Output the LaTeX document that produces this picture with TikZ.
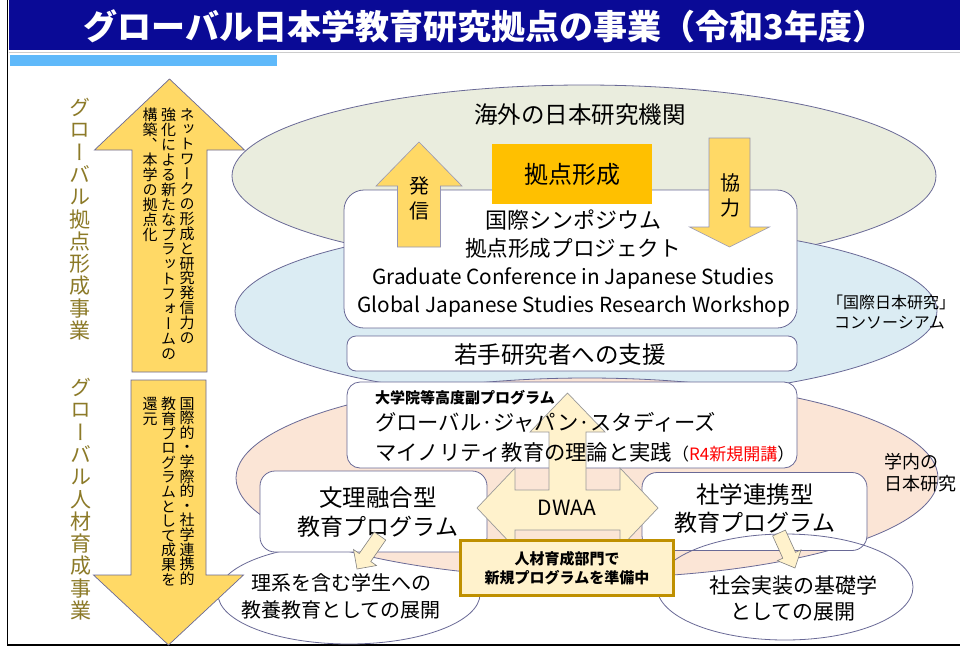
\documentclass[tikz,border=0pt]{standalone}
\usepackage{fontspec}
\usepackage{graphicx}
\setmainfont{Noto Sans CJK JP}
\newfontfamily\vjp{Noto Sans CJK JP}[RawFeature=+vert]
\usetikzlibrary{shapes.geometric,calc}
\definecolor{titleblue}{RGB}{10,10,150}
\definecolor{stripeblue}{RGB}{95,185,250}
\definecolor{olc}{RGB}{105,105,150}
\definecolor{greenf}{RGB}{234,237,222}
\definecolor{bluef}{RGB}{219,236,243}
\definecolor{peachf}{RGB}{251,229,214}
\definecolor{arrowy}{RGB}{255,217,102}
\definecolor{lighty}{RGB}{255,242,204}
\definecolor{goldline}{RGB}{191,144,0}
\definecolor{orangef}{RGB}{255,192,0}
\definecolor{olivetxt}{RGB}{140,122,40}
\newcommand\fsz[1]{\fontsize{#1}{#1}\selectfont}
\def\vtend{\vtend}
\def\vtloop#1{\ifx#1\vtend\else\vtchar#1\expandafter\vtloop\fi}
\def\vtchar#1{\hbox to 1em{\hss{\vjp#1}\hss}}
\newcommand\vtext[2]{\vbox{\baselineskip=#1\lineskiplimit=-100pt\lineskip=0pt\vtloop#2\vtend}}
\newcommand\blockarrow[6]{%
  \coordinate (bah) at ($(#3)!#6!(#2)$);
  \filldraw[#1] ($(#2)!#4!90:(#3)$) -- ($(bah)!#4!90:(#3)$) -- ($(bah)!#5!90:(#3)$) -- (#3)
    -- ($(bah)!#5!-90:(#3)$) -- ($(bah)!#4!-90:(#3)$) -- ($(#2)!#4!-90:(#3)$) -- cycle;}
\tikzset{
  lbl/.style={inner sep=0pt, text=black},
  rbox/.style={draw=olc, line width=0.8pt, fill=white, rectangle, inner sep=0pt},
  ell/.style={ellipse, draw=olc, line width=0.8pt, inner sep=0pt},
  bigarr/.style={fill=arrowy, draw=olc, line width=0.7pt},
  midarr/.style={fill=arrowy, draw=olc!70, line width=0.6pt},
  smallarr/.style={fill=lighty, draw=gray, line width=0.6pt},
}
\begin{document}
\begin{tikzpicture}[x=1pt,y=-1pt]
\useasboundingbox (0,0) rectangle (960,648);
\fill[white] (0,0) rectangle (960,648);
% title
\fill[titleblue] (8.5,0) rectangle (960,50);
\draw[gray!40, line width=0.8pt] (8.5,52.5) -- (960,52.5);
\fill[stripeblue] (10,55) rectangle (277,66);
\node[lbl, text=white, font=\fsz{34}\bfseries] (title) at (485,26) {グローバル日本学教育研究拠点の事業（令和3年度）};
\draw[black, line width=1.5pt] (7.5,0) -- (7.5,645) -- (960,645);
% ellipses
\node[ell, fill=greenf, minimum width=704pt, minimum height=182pt] (overseas) at (584,176) {};
\node[ell, fill=bluef, minimum width=702pt, minimum height=176pt] (consort) at (586,311) {};
\node[ell, minimum width=262pt, minimum height=100pt] (ellL) at (349,594) {};
\node[ell, fill=peachf, minimum width=702pt, minimum height=200pt] (campus) at (587,478) {};
\node[lbl, font=\fsz{23.5}] (overseasT) at (580,115) {海外の日本研究機関};
\node[lbl, font=\fsz{16}, anchor=west] (consT1) at (827,302) {「国際日本研究」};
\node[lbl, font=\fsz{16}, anchor=west] (consT2) at (834,323) {コンソーシアム};
\node[lbl, font=\fsz{18}, anchor=west] (campT1) at (884,462) {学内の};
\node[lbl, font=\fsz{18}, anchor=west] (campT2) at (884,484) {日本研究};
% left labels
\node[lbl, text=olivetxt, font=\fsz{21}, anchor=north] (lab1) at (80,98) {\vtext{22.3pt}{グローバル拠点形成事業}};
\node[lbl, text=olivetxt, font=\fsz{21}, anchor=north] (lab2) at (81,378) {\vtext{22.3pt}{グローバル人材育成事業}};
% big arrows
\coordinate (upS) at (169.5,372);
\coordinate (upT) at (169.5,79);
\blockarrow{bigarr}{upS}{upT}{37.5pt}{75pt}{71pt}
\coordinate (dnS) at (168.5,380);
\coordinate (dnT) at (168.5,645);
\blockarrow{bigarr}{dnS}{dnT}{37.5pt}{75pt}{70pt}
\node[lbl, font=\fsz{15}, anchor=north] (up1) at (187,108) {\vtext{14.9pt}{ネットワークの形成と研究発信力の}};
\node[lbl, font=\fsz{15}, anchor=north] (up2) at (168.5,108) {\vtext{14.9pt}{強化による新たなプラットフォームの}};
\node[lbl, font=\fsz{15}, anchor=north] (up3) at (150,108) {\vtext{14.9pt}{構築、本学の拠点化}};
\node[lbl, font=\fsz{15}, anchor=north] (dn1) at (187,397) {\vtext{14.6pt}{国際的・学際的・社学連携的}};
\node[lbl, font=\fsz{15}, anchor=north] (dn2) at (168.5,397) {\vtext{14.6pt}{教育プログラムとして成果を}};
\node[lbl, font=\fsz{15}, anchor=north] (dn3) at (150,397) {\vtext{14.6pt}{還元}};
% symposium box
\node[rbox, rounded corners=20pt, minimum width=453pt, minimum height=138pt] (symp) at (570.5,259) {};
\coordinate (hsS) at (419,247);
\coordinate (hsT) at (419,142);
\blockarrow{midarr}{hsS}{hsT}{21.5pt}{43pt}{44pt}
\coordinate (kyS) at (729.5,138);
\coordinate (kyT) at (729.5,247);
\blockarrow{midarr}{kyS}{kyT}{20.5pt}{40pt}{20pt}
\node[lbl, font=\fontsize{20}{25}\selectfont, align=center] (hasshin) at (419,198) {発\\信};
\node[lbl, font=\fontsize{20}{25}\selectfont, align=center] (kyoryoku) at (730,195) {協\\力};
\node[rectangle, fill=orangef, minimum width=160pt, minimum height=60pt, inner sep=0pt, font=\fsz{24}] (kyoten) at (572,174) {拠点形成};
\node[lbl, font=\fsz{22}] (sympT1) at (573,220) {国際シンポジウム};
\node[lbl, font=\fsz{21.6}] (sympT2) at (573,248) {拠点形成プロジェクト};
\node[lbl, font=\fsz{20.8}] (sympT3) at (573,278) {Graduate Conference in Japanese Studies};
\node[lbl, font=\fsz{20.8}] (sympT4) at (574,307) {Global Japanese Studies Research Workshop};
% young researchers
\node[rbox, rounded corners=9pt, minimum width=450pt, minimum height=35pt] (young) at (572,353.5) {};
\node[lbl, font=\fsz{23.5}] (youngT) at (560,355) {若手研究者への支援};
% graduate program box
\node[rbox, rounded corners=13pt, minimum width=450pt, minimum height=86pt] (grad) at (572,425) {};
% D and E boxes
\node[rbox, rounded corners=15pt, minimum width=227pt, minimum height=81pt] (bunri) at (373.5,511.5) {};
\node[rbox, rounded corners=15pt, minimum width=225pt, minimum height=78pt] (shagaku) at (754.5,511.5) {};
\node[lbl, font=\fsz{23.5}] (bunriT1) at (378,498) {文理融合型};
\node[lbl, font=\fsz{23}] (bunriT2) at (378,527) {教育プログラム};
\node[lbl, font=\fsz{23.5}] (shaT1) at (755,495) {社学連携型};
\node[lbl, font=\fsz{23}] (shaT2) at (755,523) {教育プログラム};
% right bottom ellipse
\node[ell, minimum width=256pt, minimum height=106pt] (ellR) at (785,587) {};
\node[lbl, font=\fsz{20}] (ellLT1) at (341,583) {理系を含む学生への};
\node[lbl, font=\fsz{20}] (ellLT2) at (341,610) {教養教育としての展開};
\node[lbl, font=\fsz{21}] (ellRT1) at (793,585) {社会実装の基礎学};
\node[lbl, font=\fsz{21}] (ellRT2) at (793,612) {としての展開};
% small arrows
\coordinate (saS) at (380,536);
\coordinate (saT) at (357,569);
\blockarrow{smallarr}{saS}{saT}{7pt}{14pt}{14pt}
\coordinate (sbS) at (779,533);
\coordinate (sbT) at (795,568);
\blockarrow{smallarr}{sbS}{sbT}{7pt}{13pt}{14pt}
% DWAA
\filldraw[fill=lighty, draw=gray!80, line width=0.7pt] (567.5,393) -- (605,432) -- (586,432) -- (586,490) -- (620,490) -- (620,468) -- (658,508) -- (620,548) -- (620,530) -- (515,530) -- (515,548) -- (477,508) -- (515,468) -- (515,490) -- (549,490) -- (549,432) -- (530,432) -- cycle;
\node[lbl, font=\fsz{21}] (dwaa) at (567,508) {DWAA};
% graduate program texts
\node[lbl, font=\fsz{15}\bfseries, anchor=west] (gradT1) at (375,398) {大学院等高度副プログラム};
\node[lbl, font=\fsz{21.3}, anchor=west] (gradT2) at (375,422) {グローバル·ジャパン·スタディーズ};
\node[lbl, anchor=west] (gradT3) at (375,452) {{\fsz{21.3}マイノリティ教育の理論と実践}{\fsz{17}（\textcolor{red}{R4新規開講}）}};
% preparation box
\node[rectangle, fill=lighty, draw=goldline, line width=3pt, minimum width=213pt, minimum height=55pt, inner sep=0pt, align=center, font=\fontsize{15}{19}\selectfont\bfseries] (prep) at (567,568) {人材育成部門で\\新規プログラムを準備中};
\end{tikzpicture}
\end{document}
